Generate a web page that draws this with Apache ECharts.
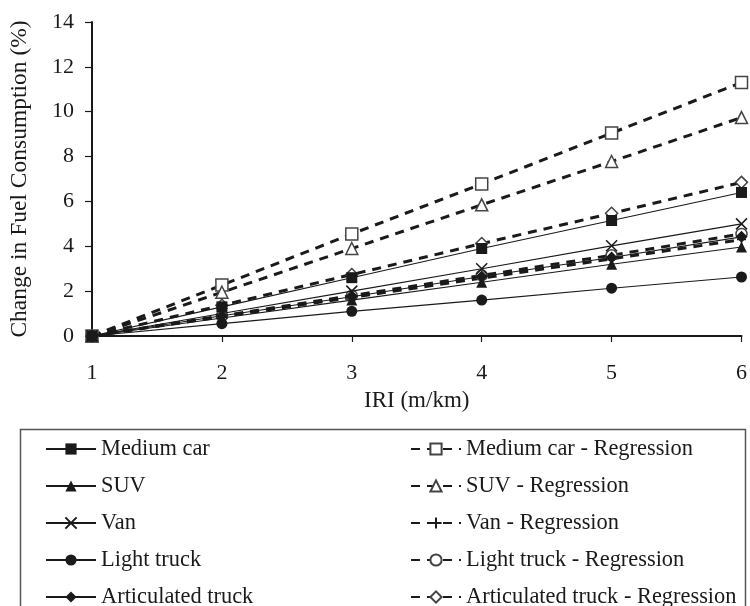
<!DOCTYPE html>
<html>
<head>
    <meta charset="utf-8" />
    <title>Change in Fuel Consumption vs IRI</title>
    <script src="https://cdn.jsdelivr.net/npm/echarts@6/dist/echarts.min.js"></script>
    <style>
        html, body { margin: 0; padding: 0; background: #fff; }
        #chart { width: 750px; height: 606px; }
    </style>
</head>
<body>
    <div id="chart"></div>
    <script type="text/javascript">

        // IRI (m/km)
        var iri = [1, 2, 3, 4, 5, 6];

        // measured values (%)
        var mediumCar = [0, 1.3, 2.6, 3.9, 5.15, 6.4];
        var suv = [0, 0.8, 1.6, 2.4, 3.2, 3.97];
        var van = [0, 1.0, 2.0, 3.0, 4.02, 5.0];
        var lightTruck = [0, 0.55, 1.1, 1.6, 2.13, 2.63];
        var articulatedTruck = [0, 0.9, 1.75, 2.65, 3.5, 4.42];

        // regression values (%)
        var mediumCarReg = [0, 2.27, 4.55, 6.78, 9.05, 11.3];
        var suvReg = [0, 1.95, 3.9, 5.85, 7.78, 9.74];
        var vanReg = [0, 0.86, 1.72, 2.58, 3.44, 4.3];
        var lightTruckReg = [0, 0.9, 1.8, 2.7, 3.6, 4.55];
        var articulatedReg = [0, 1.37, 2.74, 4.12, 5.47, 6.85];

        var crossPath = 'path://M0,0L10,10M10,0L0,10';
        var plusPath = 'path://M5,0L5,10M0,5L10,5';
        var serif = 'Liberation Serif';
        var ink = '#1a1a1a';

        function pairs(vals) {
            return vals.map(function (v, i) { return [iri[i], v]; });
        }

        function solid(name, vals, symbol, size, z) {
            var isPath = symbol.indexOf('path://') === 0;
            return {
                name: name,
                type: 'line',
                data: pairs(vals),
                symbol: symbol,
                symbolSize: size,
                showAllSymbol: true,
                z: z,
                lineStyle: { color: ink, width: 1.1, type: 'solid' },
                itemStyle: isPath
                    ? { color: 'rgba(0,0,0,0)', borderColor: ink, borderWidth: 1.5 }
                    : { color: ink, borderColor: ink, borderWidth: 0 },
                emphasis: { disabled: true },
                animation: false
            };
        }

        function dashed(name, vals, symbol, size, z) {
            var isPath = symbol.indexOf('path://') === 0;
            return {
                name: name,
                type: 'line',
                data: pairs(vals),
                symbol: symbol,
                symbolSize: size,
                showAllSymbol: true,
                z: z,
                lineStyle: { color: ink, width: 3, type: [9, 7] },
                itemStyle: isPath
                    ? { color: 'rgba(0,0,0,0)', borderColor: ink, borderWidth: 1.5 }
                    : { color: '#fff', borderColor: '#444', borderWidth: 1.5 },
                emphasis: { disabled: true },
                animation: false
            };
        }

        var legendText = { fontFamily: serif, fontSize: 22.4, color: ink, lineHeight: 22 };

        var chart = echarts.init(document.getElementById('chart'));

        var option = {
            backgroundColor: '#fff',
            animation: false,
            textStyle: { fontFamily: serif, color: ink },
            grid: { left: 92, right: 6, top: 22, bottom: 270, containLabel: false },
            xAxis: {
                type: 'value',
                min: 1,
                max: 6,
                interval: 1,
                name: 'IRI (m/km)',
                nameLocation: 'middle',
                nameGap: 53,
                nameTextStyle: { fontFamily: serif, fontSize: 23, color: ink },
                axisLine: { show: true, onZero: false, lineStyle: { color: ink, width: 2 } },
                axisTick: { show: true, inside: false, length: 6, lineStyle: { color: ink, width: 1.2 } },
                axisLabel: { fontFamily: serif, fontSize: 22, color: ink, margin: 26 },
                splitLine: { show: false }
            },
            yAxis: {
                type: 'value',
                min: 0,
                max: 14,
                interval: 2,
                name: 'Change in Fuel Consumption (%)',
                nameLocation: 'middle',
                nameGap: 60,
                nameRotate: 90,
                nameTextStyle: { fontFamily: serif, fontSize: 23.5, color: ink },
                axisLine: { show: true, lineStyle: { color: ink, width: 2 } },
                axisTick: { show: true, inside: false, length: 7, lineStyle: { color: ink, width: 1.2 } },
                axisLabel: { fontFamily: serif, fontSize: 22, color: ink, margin: 18 },
                splitLine: { show: false }
            },
            legend: [
                {
                    orient: 'vertical',
                    left: 45,
                    top: 438,
                    height: 200,
                    padding: 0,
                    itemWidth: 50,
                    itemHeight: 14,
                    itemGap: 15,
                    selectedMode: false,
                    textStyle: legendText,
                    data: ['Medium car', 'SUV', 'Van', 'Light truck', 'Articulated truck']
                },
                {
                    orient: 'vertical',
                    left: 410,
                    top: 438,
                    height: 200,
                    padding: 0,
                    itemWidth: 50,
                    itemHeight: 14,
                    itemGap: 15,
                    selectedMode: false,
                    textStyle: legendText,
                    data: ['Medium car - Regression', 'SUV - Regression', 'Van - Regression',
                        'Light truck - Regression', 'Articulated truck - Regression']
                }
            ],
            graphic: [
                {
                    type: 'rect',
                    left: 18,
                    top: 427,
                    shape: { width: 725, height: 200 },
                    style: { fill: 'none', stroke: '#555', lineWidth: 1.5 },
                    silent: true,
                    z: -1
                }
            ],
            series: [
                dashed('Medium car - Regression', mediumCarReg, 'rect', 12, 3),
                dashed('SUV - Regression', suvReg, 'triangle', 12, 3),
                dashed('Van - Regression', vanReg, plusPath, 9, 3),
                dashed('Light truck - Regression', lightTruckReg, 'circle', 11, 3),
                dashed('Articulated truck - Regression', articulatedReg, 'diamond', 12, 3),
                solid('Medium car', mediumCar, 'rect', 11, 4),
                solid('SUV', suv, 'triangle', 11, 4),
                solid('Van', van, crossPath, 11, 4),
                solid('Light truck', lightTruck, 'circle', 11, 4),
                solid('Articulated truck', articulatedTruck, 'diamond', 12, 4)
            ]
        };

        chart.setOption(option);

    </script>
</body>
</html>
